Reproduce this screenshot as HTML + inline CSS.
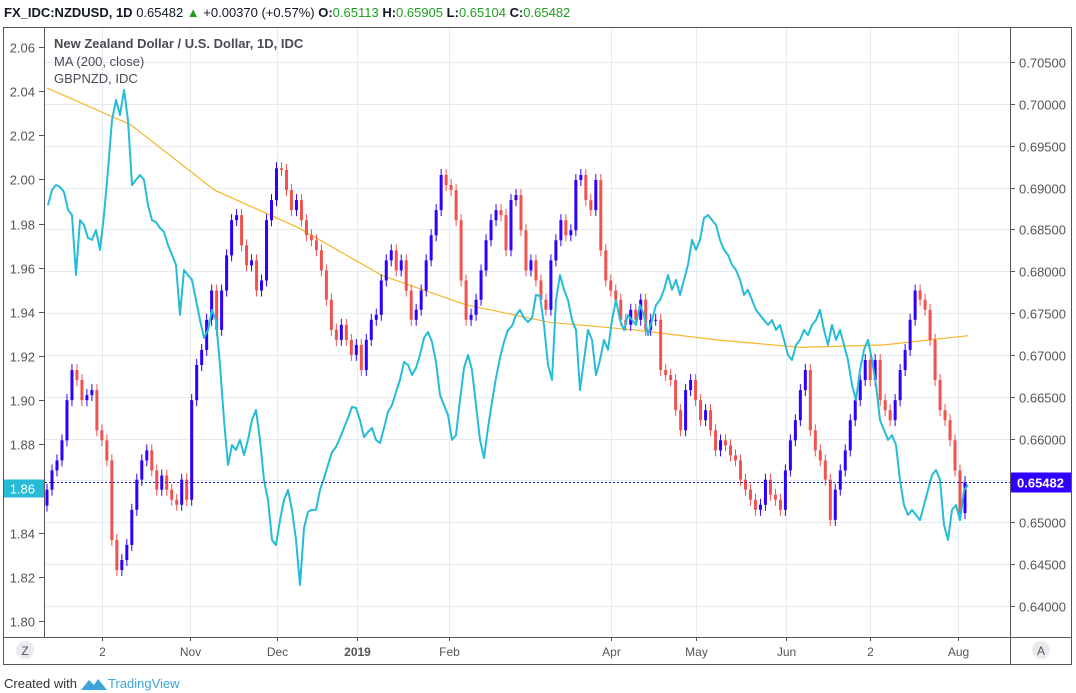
<!DOCTYPE html>
<html><head><meta charset="utf-8"><style>
html,body{margin:0;padding:0;background:#fff;width:1076px;height:693px;overflow:hidden;font-family:"Liberation Sans",sans-serif}
svg text{font-family:"Liberation Sans",sans-serif}
</style></head><body>
<svg id="chart" width="1076" height="693" viewBox="0 0 1076 693" xmlns="http://www.w3.org/2000/svg">
<g id="header">
<text x="4" y="17" font-size="13" fill="#131722"><tspan font-weight="bold">FX_IDC:NZDUSD, 1D</tspan> 0.65482 <tspan fill="#1ea01e">▲</tspan> +0.00370 (+0.57%) <tspan font-weight="bold">O:</tspan><tspan fill="#1ea01e">0.65113</tspan> <tspan font-weight="bold">H:</tspan><tspan fill="#1ea01e">0.65905</tspan> <tspan font-weight="bold">L:</tspan><tspan fill="#1ea01e">0.65104</tspan> <tspan font-weight="bold">C:</tspan><tspan fill="#1ea01e">0.65482</tspan></text>
</g>
<rect x="3.5" y="27.5" width="1068" height="637" fill="none" stroke="#555" stroke-width="1"/>
<g id="grid"></g>
<g id="plot"></g>
<line x1="44.5" y1="28" x2="44.5" y2="637" stroke="#555"/>
<line x1="1010.5" y1="28" x2="1010.5" y2="664" stroke="#555"/>
<line x1="4" y1="637.5" x2="1071" y2="637.5" stroke="#555"/>
<g id="axes"></g>
<g>
<text x="54" y="48" font-size="13" fill="#4a4a55" font-weight="bold">New Zealand Dollar / U.S. Dollar, 1D, IDC</text>
<text x="54" y="66" font-size="13" fill="#4a4a55">MA (200, close)</text>
<text x="54" y="83" font-size="13" fill="#4a4a55">GBPNZD, IDC</text>
</g>
<g><circle cx="25" cy="650" r="9" fill="#e9ebf0"/><text x="25" y="655" font-size="12" fill="#555" text-anchor="middle">Z</text></g>
<g><circle cx="1041" cy="650" r="9" fill="#e9ebf0"/><text x="1041" y="655" font-size="12" fill="#555" text-anchor="middle">A</text></g>
<g>
<text x="4" y="688" font-size="13" fill="#333">Created with</text>
<path d="M81 690 l8 -10 l5 5 l4 -6 l9 11 z" fill="#3ba5dc"/>
<text x="108" y="688" font-size="13" fill="#3ba5dc">TradingView</text>
</g>
</svg>
<script>
const closes=[0.6539,0.6562,0.6574,0.6598,0.6646,0.6682,0.6670,0.6646,0.6652,0.6658,0.6610,0.6598,0.6574,0.6479,0.6443,0.6455,0.6473,0.6515,0.6551,0.6574,0.6586,0.6562,0.6539,0.6556,0.6539,0.6527,0.6521,0.6551,0.6527,0.6646,0.6688,0.6706,0.6742,0.6777,0.6730,0.6777,0.6819,0.6861,0.6867,0.6831,0.6807,0.6813,0.6777,0.6789,0.6861,0.6885,0.6923,0.6921,0.6897,0.6873,0.6885,0.6861,0.6843,0.6837,0.6825,0.6801,0.6766,0.6730,0.6718,0.6736,0.6718,0.6700,0.6712,0.6682,0.6718,0.6742,0.6748,0.6789,0.6813,0.6825,0.6801,0.6813,0.6777,0.6742,0.6754,0.6777,0.6813,0.6843,0.6873,0.6915,0.6903,0.6897,0.6861,0.6789,0.6742,0.6748,0.6766,0.6801,0.6837,0.6861,0.6873,0.6867,0.6825,0.6885,0.6891,0.6849,0.6801,0.6813,0.6789,0.6766,0.6754,0.6813,0.6837,0.6861,0.6843,0.6849,0.6909,0.6915,0.6885,0.6873,0.6909,0.6825,0.6789,0.6777,0.6766,0.6742,0.6736,0.6754,0.6742,0.6766,0.6730,0.6742,0.6742,0.6682,0.6676,0.6670,0.6634,0.6610,0.6658,0.6670,0.6646,0.6622,0.6634,0.6610,0.6586,0.6598,0.6592,0.6580,0.6574,0.6551,0.6539,0.6527,0.6515,0.6521,0.6551,0.6533,0.6527,0.6515,0.6562,0.6598,0.6622,0.6658,0.6682,0.6610,0.6586,0.6574,0.6551,0.6503,0.6539,0.6562,0.6586,0.6622,0.6646,0.6670,0.6694,0.6670,0.6694,0.6646,0.6634,0.6622,0.6646,0.6682,0.6706,0.6742,0.6777,0.6766,0.6754,0.6718,0.6670,0.6634,0.6622,0.6598,0.6562,0.6511,0.6548];
const firstOpen=0.6520;
const gbpnzd=[1.9884,1.9952,1.9975,1.9966,1.9943,1.9862,1.9839,1.9567,1.9816,1.9794,1.9735,1.9726,1.9771,1.9681,1.9839,2.0043,2.0269,2.0360,2.0292,2.0405,2.0269,1.9975,1.9998,2.0020,1.9998,1.9884,1.9816,1.9807,1.9780,1.9762,1.9703,1.9658,1.9613,1.9386,1.9590,1.9567,1.9545,1.9454,1.9363,1.9282,1.9318,1.9409,1.9363,1.9160,1.8910,1.8707,1.8797,1.8774,1.8820,1.8752,1.8820,1.8910,1.8956,1.8820,1.8639,1.8548,1.8367,1.8344,1.8457,1.8548,1.8593,1.8503,1.8367,1.8163,1.8421,1.8494,1.8503,1.8503,1.8593,1.8647,1.8707,1.8765,1.8788,1.8829,1.8874,1.8920,1.8969,1.8965,1.8910,1.8833,1.8856,1.8874,1.8820,1.8806,1.8874,1.8947,1.8978,1.9037,1.9092,1.9173,1.9160,1.9114,1.9146,1.9205,1.9282,1.9309,1.9264,1.9173,1.9024,1.8978,1.8933,1.8820,1.8842,1.9001,1.9146,1.9205,1.9137,1.8978,1.8820,1.8738,1.8874,1.8992,1.9101,1.9191,1.9264,1.9318,1.9336,1.9386,1.9409,1.9372,1.9354,1.9372,1.9477,1.9472,1.9341,1.9160,1.9092,1.9454,1.9567,1.9500,1.9454,1.9363,1.9318,1.9046,1.9182,1.9318,1.9273,1.9114,1.9182,1.9273,1.9228,1.9363,1.9454,1.9363,1.9318,1.9386,1.9363,1.9341,1.9431,1.9386,1.9295,1.9363,1.9431,1.9454,1.9500,1.9567,1.9500,1.9545,1.9477,1.9545,1.9613,1.9726,1.9681,1.9726,1.9825,1.9839,1.9816,1.9794,1.9726,1.9681,1.9658,1.9613,1.9590,1.9545,1.9477,1.9500,1.9454,1.9409,1.9386,1.9363,1.9341,1.9363,1.9318,1.9341,1.9273,1.9205,1.9182,1.9250,1.9273,1.9318,1.9295,1.9341,1.9363,1.9409,1.9318,1.9250,1.9341,1.9273,1.9318,1.9250,1.9182,1.9069,1.9001,1.9137,1.9228,1.9273,1.9182,1.9069,1.8910,1.8865,1.8820,1.8842,1.8797,1.8639,1.8525,1.8480,1.8503,1.8480,1.8457,1.8525,1.8593,1.8661,1.8684,1.8639,1.8435,1.8367,1.8503,1.8525,1.8457,1.8593,1.8616];
const maValues=[0.7019,0.6975,0.6897,0.6852,0.6795,0.6760,0.6739,0.6730,0.6718,0.6709,0.6712,0.6723];
const rightTicks=[0.705,0.700,0.695,0.690,0.685,0.680,0.675,0.670,0.665,0.660,0.655,0.650,0.645,0.640];
const leftTicks=[2.06,2.04,2.02,2.00,1.98,1.96,1.94,1.92,1.90,1.88,1.86,1.84,1.82,1.80];
const timeLabels=["2","Nov","Dec","2019","Feb","Apr","May","Jun","2","Aug"];
const timeIdx=[11,28.6,46,62.2,80.6,113,130,148.2,165,182.6];
const lastPrice=0.65482;
const lastLeft=1.86;

const NS="http://www.w3.org/2000/svg";
const yR=p=>62+(0.705-p)/0.005*41.85;
const yL=v=>47+(2.06-v)/0.02*44.15;
const xC=i=>47+i*(965-47)/(closes.length-1);
const xG=i=>48+i*(968-48)/(gbpnzd.length-1);
const xM=i=>47+i*(968-47)/(maValues.length-1);
function mk(tag,attrs,parent){const e=document.createElementNS(NS,tag);for(const k in attrs)e.setAttribute(k,attrs[k]);parent.appendChild(e);return e;}
const grid=document.getElementById('grid'),plot=document.getElementById('plot'),axes=document.getElementById('axes');

rightTicks.forEach(t=>{const y=Math.round(yR(t))+0.5;
 const g=mk('line',{x1:45,x2:1010,y1:y,y2:y,stroke:'#e3ecf3'},grid);
 
 
 const tk=mk('line',{x1:1010,x2:1015,y1:y,y2:y,stroke:'#555'},axes);
 
 
 const tx=mk('text',{x:1019,y:y+5,'font-size':13,fill:'#555'},axes);tx.textContent=t.toFixed(5);
 
 
});
leftTicks.forEach(t=>{const y=Math.round(yL(t))+0.5;
 const tk=mk('line',{x1:39,x2:44,y1:y,y2:y,stroke:'#555'},axes);
 
 
 const tx=mk('text',{x:35,y:y+5,'font-size':13,fill:'#555','text-anchor':'end'},axes);tx.textContent=t.toFixed(2);
 
 
});
timeLabels.forEach((l,k)=>{const x=Math.round(xC(timeIdx[k]))+0.5;
 const g=mk('line',{x1:x,x2:x,y1:28,y2:637,stroke:'#e3ecf3'},grid);
 
 
 const tk=mk('line',{x1:x,x2:x,y1:637,y2:641,stroke:'#555'},axes);
 
 
 const tx=mk('text',{x:x,y:656,'font-size':12,fill:'#555','text-anchor':'middle'},axes);tx.textContent=l;
 if(l==='2019')tx.setAttribute('font-weight','bold');
 
 
});

// MA line
let d='';maValues.forEach((v,i)=>{d+=(i?'L':'M')+xM(i).toFixed(1)+' '+yR(v).toFixed(1);});
const ma=mk('path',{d:d,fill:'none',stroke:'#f5b62a','stroke-width':1.2},plot);



// candles
closes.forEach((c,i)=>{const o=i?closes[i-1]:firstOpen;const up=c>=o;const col=up?'#2f00ff':'#ef5350';
 const x=xC(i);const yt=yR(Math.max(o,c)),yb=yR(Math.min(o,c));
 const w=mk('line',{x1:x,x2:x,y1:yt-6,y2:yb+6,stroke:col,'stroke-width':1},plot);
 
 
 const b=mk('rect',{x:x-1.5,y:yt,width:3,height:Math.max(1,yb-yt),fill:col},plot);
 
 
});

// GBPNZD line
d='';gbpnzd.forEach((v,i)=>{d+=(i?'L':'M')+xG(i).toFixed(1)+' '+yL(v).toFixed(1);});
const gl=mk('path',{d:d,fill:'none',stroke:'#26bcd7','stroke-width':2,'stroke-linejoin':'round'},plot);



// last price line and labels
const ly=Math.round(yR(lastPrice))+0.5;
const pl=mk('line',{x1:45,x2:1010,y1:ly,y2:ly,stroke:'#1a1aa0','stroke-dasharray':'2 2'},plot);


const pr=mk('rect',{x:1011,y:ly-10,width:60,height:20,fill:'#2f00ff'},axes);


const pt=mk('text',{x:1017,y:ly+5,'font-size':13,fill:'#fff','font-weight':'bold'},axes);pt.textContent=lastPrice.toFixed(5);


const gy=yL(lastLeft);
const lr=mk('rect',{x:4,y:gy-9,width:40,height:18,fill:'#26bcd7'},axes);


const lt=mk('text',{x:35,y:gy+5,'font-size':13,fill:'#fff','text-anchor':'end'},axes);lt.textContent=lastLeft.toFixed(2);


</script>
</body></html>
